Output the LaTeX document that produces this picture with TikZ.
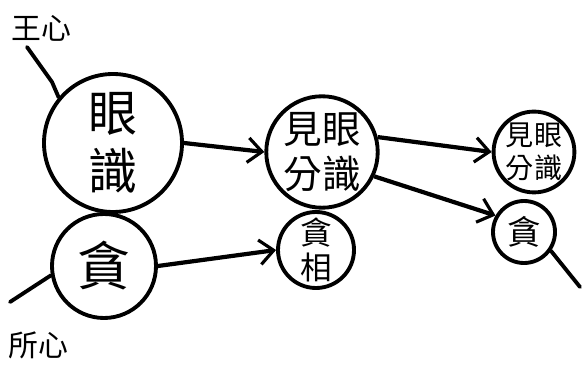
\documentclass[tikz,border=0pt]{standalone}
\usepackage{fontspec}
\setmainfont{Noto Sans CJK TC}
\usetikzlibrary{arrows.meta}

\begin{document}
\begin{tikzpicture}[
  ring/.style={circle, draw, line width=2.2pt, inner sep=0pt, align=center},
  link/.style={line width=2.4pt, -{Straight Barb[length=8pt, width=14pt, line width=1.8pt]}},
  stroke/.style={line width=2.2pt, line cap=round},
  label/.style={inner sep=0pt, font=\fontsize{17}{17}\selectfont},
  scale=1
]
\useasboundingbox (0,0) rectangle (11.64,7.36);

% Heart-king side: eye consciousness and its seen part
\node[label] (king) at (0.82, 6.8) {王心};
\node[ring, minimum size=2.76cm, font=\fontsize{28}{33}\selectfont] (eye) at (2.26, 4.5) {眼\\識};
\node[ring, minimum size=2.12cm, font=\fontsize{22}{26}\selectfont] (see1) at (6.44, 4.32) {見眼\\分識};
\node[ring, minimum size=1.56cm, font=\fontsize{16}{19}\selectfont] (see2) at (10.68, 4.32) {見眼\\分識};

% Heart-attendant side: greed and its mark
\node[label] (attend) at (0.76, 0.46) {所心};
\node[ring, minimum size=2.08cm, font=\fontsize{30}{30}\selectfont] (greed) at (2.08, 2.04) {貪};
\node[ring, minimum size=1.52cm, font=\fontsize{18}{20}\selectfont] (mark) at (6.32, 2.36) {貪\\相};
\node[ring, minimum size=1.24cm, font=\fontsize{19}{19}\selectfont] (greed2) at (10.48, 2.72) {貪};

% Leaders from the two labels
\coordinate (k0) at (0.54, 6.42);
\coordinate (k1) at (1.04, 5.72);
\draw[stroke] (k0) -- (k1) -- (eye.140);
\coordinate (a0) at (0.2, 1.32);
\draw[stroke] (a0) -- (greed.190);
\coordinate (t0) at (11.6, 1.62);
\draw[stroke] (greed2.-35) -- (t0);

% Arrows
\draw[link] (eye.east) -- (see1.west);
\draw[link] (greed.east) -- (mark.west);
\draw[link] (see1.15) -- (see2.west);
\draw[link] (see1.-25) -- (greed2.150);
\end{tikzpicture}
\end{document}
